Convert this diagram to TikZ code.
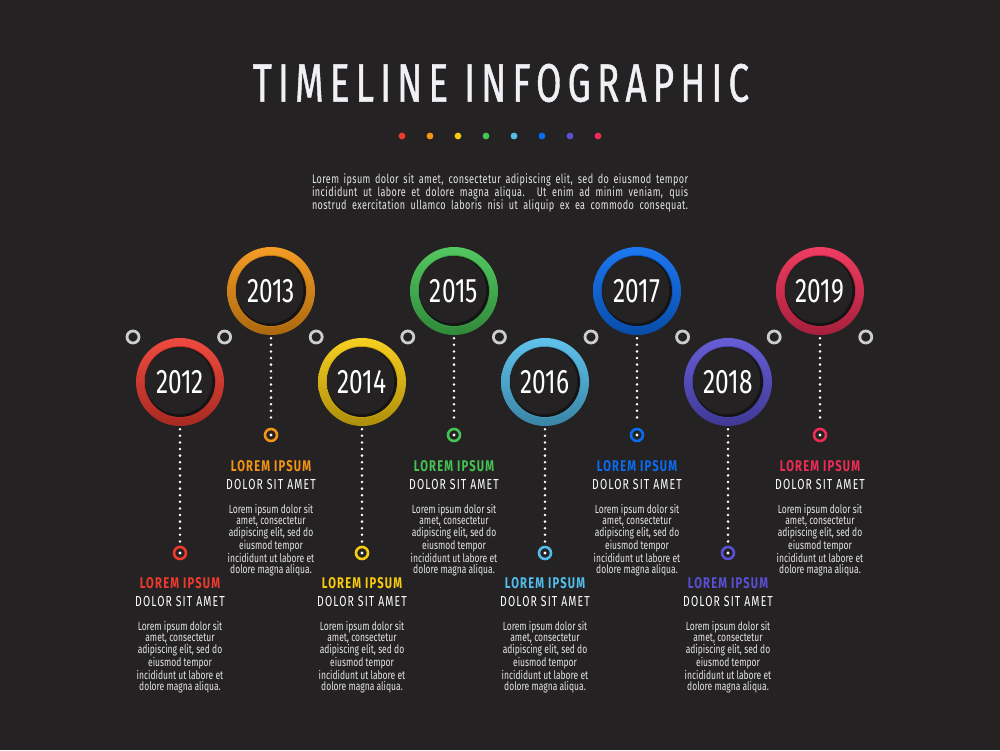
\documentclass[tikz,border=0pt]{standalone}
\usepackage{fontspec}
\setmainfont{Fira Sans}[FakeStretch=0.72]
\newfontfamily\capsfont{Fira Sans}[FakeStretch=0.72,LetterSpace=8]
\newfontfamily\titlefont{Fira Sans}[FakeStretch=0.68,LetterSpace=11.5,FakeBold=0.8]
\usetikzlibrary{calc}

\definecolor{bg}{HTML}{252223}
\definecolor{ringgray}{HTML}{CDCDCF}
\definecolor{txtgray}{HTML}{E6E6E6}
\definecolor{titlecol}{HTML}{F0F0F5}
\definecolor{cA}{HTML}{EE3B2F}
\definecolor{cB}{HTML}{F39414}
\definecolor{cC}{HTML}{F7CB0F}
\definecolor{cD}{HTML}{44C353}
\definecolor{cE}{HTML}{52BDEB}
\definecolor{cF}{HTML}{0A6CF0}
\definecolor{cG}{HTML}{5A50D2}
\definecolor{cH}{HTML}{EE2C55}

\tikzset{
  yeartxt/.style={circle,minimum size=86pt,inner sep=0pt,text=white,font=\fontsize{34}{34}\selectfont},
  dotring/.style={circle,minimum size=12pt,inner sep=0pt,line width=2.6pt},
  grayring/.style={circle,draw=ringgray,minimum size=12pt,inner sep=0pt,line width=2.8pt},
  dotline/.style={white,line width=2.8pt,line cap=round,dash pattern=on 0pt off 6.6pt},
  headtxt/.style={inner sep=0pt,font=\capsfont\bfseries\fontsize{15.5}{15.5}\selectfont},
  subtxt/.style={inner sep=0pt,text=white,font=\capsfont\fontsize{14.5}{14.5}\selectfont},
  bodytxt/.style={inner sep=0pt,text=txtgray,align=center,font=\fontsize{11.8}{11}\selectfont}
}

\begin{document}
\begin{tikzpicture}[x=1pt,y=-1pt]
\fill[bg] (0,0) rectangle (1000,750);
\useasboundingbox (0,0) rectangle (1000,750);

% title
\node[inner sep=0pt,text=titlecol] (title) at (501,83)
  {\titlefont\fontsize{54}{54}\selectfont TIMELINE INFOGRAPHIC};

% colour dots
\foreach \col [count=\i] in {cA,cB,cC,cD,cE,cF,cG,cH}
  \fill[\col] ({374+28*\i},136) circle (3.4pt);

\node[bodytxt,font=\addfontfeatures{LetterSpace=3}\fontsize{12.6}{13}\selectfont] (intro) at (500,193)
  {\makebox[376pt][s]{Lorem ipsum dolor sit amet, consectetur adipiscing elit, sed do eiusmod tempor}\\
   \makebox[376pt][s]{incididunt ut labore et dolore magna aliqua. Ut enim ad minim veniam, quis}\\
   \makebox[376pt][s]{nostrud exercitation ullamco laboris nisi ut aliquip ex ea commodo consequat.}};

% gray rings on the axis
\foreach \k in {0,...,8}
  \node[grayring] (g\k) at ({133+91.6*\k},337) {};

% years
\foreach \yr/\col/\x/\up in {2012/cA/180/0,2013/cB/271/1,2014/cC/362/0,2015/cD/454/1,
                             2016/cE/545/0,2017/cF/637/1,2018/cG/728/0,2019/cH/820/1}
{
  \pgfmathsetmacro\cy{382-91*\up}
  \pgfmathsetmacro\ry{553-118*\up}
  \pgfmathsetmacro\ty{583-117*\up}
  % ring with light and shadow
  \shade[even odd rule,shading angle=45,top color=\col!92!white,bottom color=\col!70!black]
    (\x,\cy) circle (44pt) (\x,\cy) circle (35pt);
  \fill[\col!80!black] (\x,\cy) circle (36pt);
  \shade[inner color=bg!85!black,outer color=bg!55!black] (\x,\cy) circle (35pt);
  \fill[bg] ({\x-1.3},{\cy-1.3}) circle (33.6pt);
  \node[yeartxt] (y\yr) at (\x,\cy) {\yr};
  \node[dotring,draw=\col] (d\yr) at (\x,\ry) {};
  \fill[white] (d\yr.center) circle (1.6pt);
  \draw[dotline,shorten <=4pt,shorten >=4pt] (y\yr.south) -- (d\yr.north);
  % texts
  \node[headtxt,text=\col] (h\yr) at (\x,\ty) {LOREM IPSUM};
  \node[subtxt] (s\yr) at (\x,\ty+18) {DOLOR SIT AMET};
  \node[bodytxt,anchor=north] (b\yr) at (\x,\ty+38)
    {Lorem ipsum dolor sit\\ amet, consectetur\\ adipiscing elit, sed do\\
     eiusmod tempor\\ incididunt ut labore et\\ dolore magna aliqua.};
}
\end{tikzpicture}
\end{document}
